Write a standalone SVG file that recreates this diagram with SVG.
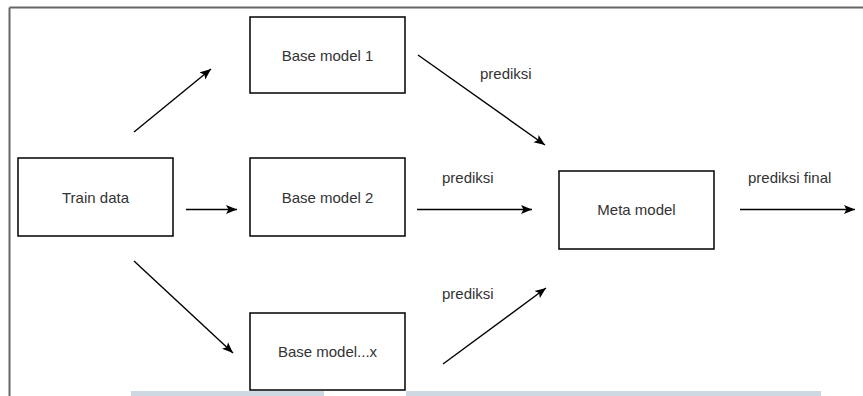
<svg xmlns="http://www.w3.org/2000/svg" width="863" height="396" viewBox="0 0 863 396">
<style>
.box{fill:#fff;stroke:#000;stroke-width:1.5}
.lbl{font-family:"Liberation Sans",Arial,sans-serif;font-size:15px;fill:#333}
.mid{text-anchor:middle}
.edge{fill:none;stroke:#000;stroke-width:1.4;marker-end:url(#ah)}
</style>
<defs>
<marker id="ah" markerUnits="userSpaceOnUse" markerWidth="12" markerHeight="10" refX="11" refY="5" orient="auto">
<path d="M0,0.5 L11,5 L0,9.5 L2.5,5 z" fill="#000"/>
</marker>
</defs>
<rect width="863" height="396" fill="#fff"/>
<g id="frame">
<line x1="9.5" y1="7.5" x2="863" y2="7.5" stroke="#666" stroke-width="2"/>
<line x1="9.5" y1="7.5" x2="9.5" y2="396" stroke="#666" stroke-width="2"/>
<rect x="131" y="391" width="193" height="5" fill="#cdd8e2"/>
<rect x="406" y="391" width="415" height="5" fill="#cdd8e2"/>
</g>
<g id="train">
<rect class="box" x="18" y="158" width="155" height="78"/>
<text class="lbl mid" x="95.5" y="202.5">Train data</text>
</g>
<g id="base1">
<rect class="box" x="250" y="17" width="155" height="76"/>
<text class="lbl mid" x="327.5" y="60.5">Base model 1</text>
</g>
<g id="base2">
<rect class="box" x="250" y="158" width="155" height="78"/>
<text class="lbl mid" x="327.5" y="202.5">Base model 2</text>
</g>
<g id="basex">
<rect class="box" x="250" y="313" width="155" height="77"/>
<text class="lbl mid" x="327.5" y="356.5">Base model...x</text>
</g>
<g id="meta">
<rect class="box" x="559" y="171" width="155" height="78"/>
<text class="lbl mid" x="636.5" y="215">Meta model</text>
</g>
<g id="connectors">
<line class="edge" x1="134" y1="132" x2="211" y2="69"/>
<line class="edge" x1="186" y1="209.5" x2="237" y2="209.5"/>
<line class="edge" x1="134" y1="261" x2="233" y2="353"/>
<line class="edge" x1="418" y1="55" x2="545" y2="145"/>
<line class="edge" x1="417" y1="209.5" x2="532" y2="209.5"/>
<line class="edge" x1="443" y1="364" x2="546" y2="288"/>
<line class="edge" x1="740" y1="209.5" x2="855" y2="209.5"/>
</g>
<g id="labels">
<text class="lbl" x="480" y="79">prediksi</text>
<text class="lbl" x="442" y="183">prediksi</text>
<text class="lbl" x="748" y="183">prediksi final</text>
<text class="lbl" x="442" y="299">prediksi</text>
</g>
</svg>
